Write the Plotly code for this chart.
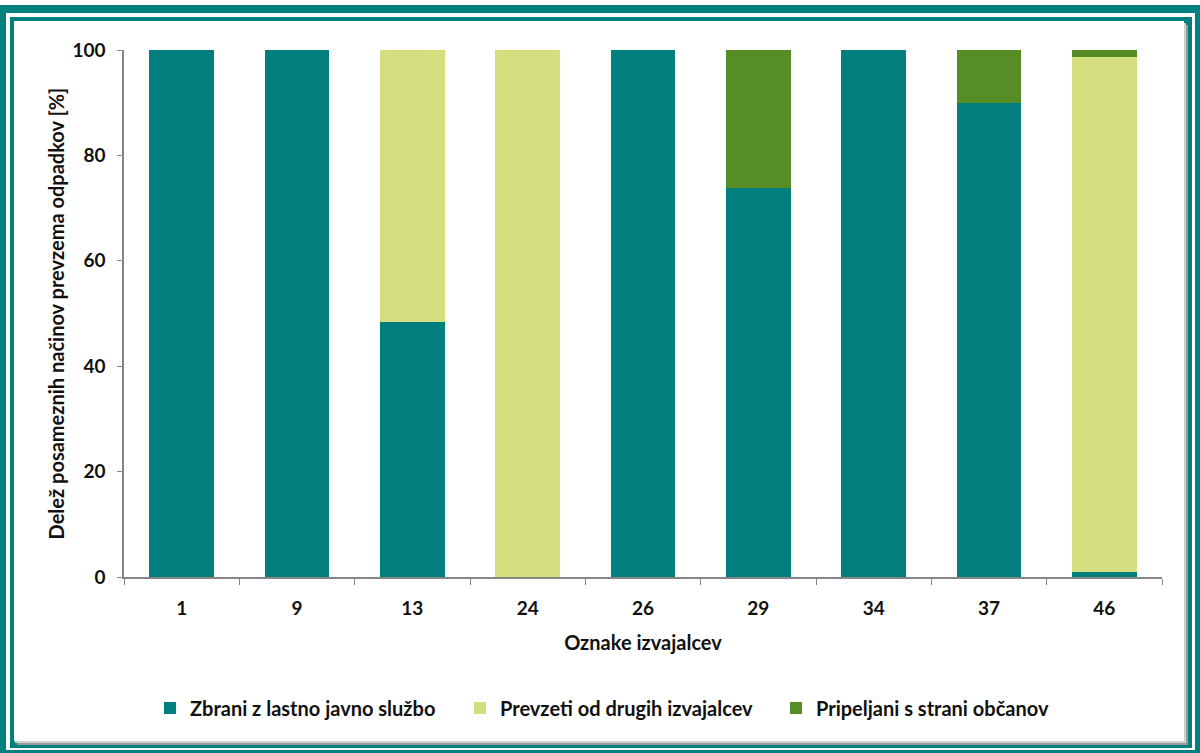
import plotly.graph_objects as go

categories = ["1", "9", "13", "24", "26", "29", "34", "37", "46"]
zbrani = [100, 100, 48.3, 0, 100, 73.8, 100, 90.0, 1.0]
prevzeti = [0, 0, 51.7, 100, 0, 0, 0, 0, 97.7]
pripeljani = [0, 0, 0, 0, 0, 26.2, 0, 10.0, 1.3]
series_names = ["Zbrani z lastno javno službo", "Prevzeti od drugih izvajalcev", "Pripeljani s strani občanov"]
colors = ["#007F7E", "#D4DE7E", "#568D27"]

W, H = 1200, 753
L, R, T, B = 124, 1162, 50, 577


def fx(p):
    return (p - L) / (R - L)


def fy(p):
    return (B - p) / (B - T)


fig = go.Figure()
data = [zbrani, prevzeti, pripeljani]
legends = ["legend", "legend2", "legend3"]
for name, vals, col, lg in zip(series_names, data, colors, legends):
    fig.add_trace(go.Bar(x=categories, y=vals, name=name, marker=dict(color=col, line=dict(width=0)),
                         legend=lg, showlegend=True))

TEAL = "#00807F"
shapes = []


def rect(x0, y0, x1, y1, color):
    shapes.append(dict(type="rect", xref="paper", yref="paper", x0=fx(x0), x1=fx(x1), y0=fy(y1), y1=fy(y0),
                       fillcolor=color, line=dict(width=0), layer="below"))


rect(0, 5, 1200, 753, TEAL)
rect(6, 13, 1195, 750, "white")
rect(10, 17, 1192, 748, TEAL)
rect(17, 25, 1188, 745, "#9a9a9a")
rect(15, 23, 1186, 743, "#d0d0d0")
rect(14, 21, 1184, 741, "white")

font_family = "Lato, 'Open Sans', sans-serif"
lg_font = dict(family=font_family, size=20, color="#111111", weight="bold")


def leg(xp):
    return dict(x=fx(xp), y=fy(708), xanchor="left", yanchor="middle", orientation="h",
                font=lg_font, bgcolor="rgba(0,0,0,0)", itemwidth=30, tracegroupgap=0, visible=True)


fig.update_layout(
    width=W, height=H,
    showlegend=True,
    barmode="stack", bargap=0.44,
    paper_bgcolor="white", plot_bgcolor="white",
    margin=dict(l=L, r=W - R, t=T, b=H - B),
    shapes=shapes,
    font=dict(family=font_family, color="#111111"),
    legend=leg(150),
    legend2=leg(460),
    legend3=leg(776),
    xaxis=dict(type="category", showline=True, linecolor="#868686", linewidth=1.5,
               ticks="outside", tickson="boundaries", ticklen=6, tickcolor="#868686",
               ticklabelstandoff=13,
               tickfont=dict(size=19, weight="bold", family=font_family),
               title=dict(text="Oznake izvajalcev", font=dict(size=20, weight="bold", family=font_family), standoff=18),
               showgrid=False),
    yaxis=dict(range=[0, 100], dtick=20, showline=True, linecolor="#868686", linewidth=1.5,
               ticks="outside", ticklen=5, tickcolor="#868686", showgrid=False, zeroline=False,
               ticklabelstandoff=8,
               tickfont=dict(size=19, weight="bold", family=font_family),
               title=dict(text="Delež posameznih načinov prevzema odpadkov [%]",
                          font=dict(size=20, weight="bold", family=font_family), standoff=2)),
)

fig.write_html("out.html", config={"displayModeBar": False},
               post_script="document.body.style.margin='0';document.body.style.padding='0';")
